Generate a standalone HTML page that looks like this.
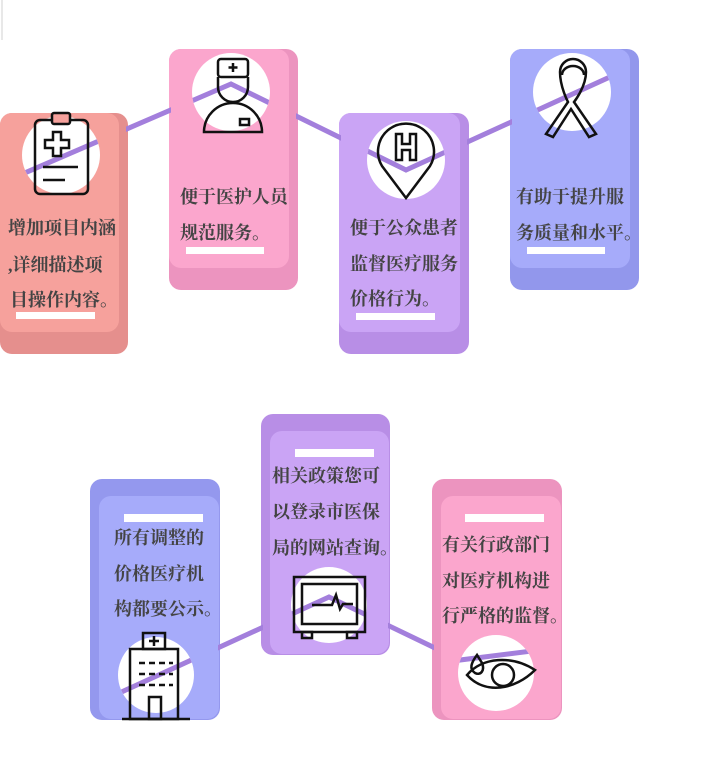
<!DOCTYPE html>
<html><head><meta charset="utf-8"><style>
html,body{margin:0;padding:0;background:#fff;}
svg text{font-family:"Liberation Serif","Noto Serif CJK SC","Noto Sans CJK SC",serif;font-weight:bold;font-size:18px;fill:#444;}
</style></head><body>
<svg width="708" height="766" viewBox="0 0 708 766" xmlns="http://www.w3.org/2000/svg">
<defs>
<clipPath id="cl">
<circle cx="61" cy="155" r="39"/><circle cx="231" cy="92" r="39"/><circle cx="406" cy="160" r="39"/><circle cx="572" cy="92" r="39"/>
<rect x="126" y="60" width="45" height="120"/><rect x="296" y="60" width="45" height="120"/><rect x="467" y="60" width="45" height="120"/>
<circle cx="156" cy="675" r="38"/><circle cx="329" cy="605" r="38"/><circle cx="496" cy="673" r="38"/>
<rect x="218" y="580" width="45" height="100"/><rect x="388" y="580" width="46" height="100"/>
</clipPath>
</defs>
<line x1="2" y1="0" x2="2" y2="40" stroke="#e8e8e8" stroke-width="2"/>
<rect x="0" y="113" width="128" height="241" rx="12" fill="#e58f8d"/>
<rect x="0" y="113" width="119" height="219" rx="12" fill="#f6a19c"/>
<rect x="169" y="49" width="129" height="241" rx="12" fill="#ec94bf"/>
<rect x="169" y="49" width="120" height="219" rx="12" fill="#fba6cd"/>
<rect x="339" y="113" width="130" height="241" rx="12" fill="#b88ee6"/>
<rect x="339" y="113" width="121" height="219" rx="12" fill="#caa4f5"/>
<rect x="510" y="49" width="129" height="241" rx="12" fill="#9297ec"/>
<rect x="510" y="49" width="120" height="219" rx="12" fill="#a6abfa"/>
<rect x="90" y="479" width="130" height="241" rx="12" fill="#9498ee"/>
<rect x="99" y="496" width="120" height="223" rx="12" fill="#a6abfa"/>
<rect x="261" y="414" width="129" height="241" rx="12" fill="#b88ee6"/>
<rect x="270" y="431" width="119" height="223" rx="12" fill="#caa4f5"/>
<rect x="432" y="479" width="130" height="241" rx="12" fill="#ec94bf"/>
<rect x="441" y="496" width="120" height="223" rx="12" fill="#fba6cd"/>
<g fill="#fff">
<circle cx="61" cy="155" r="39"/><circle cx="231" cy="92" r="39"/><circle cx="406" cy="160" r="39"/><circle cx="572" cy="92" r="39"/>
<circle cx="156" cy="675" r="38"/><circle cx="329" cy="605" r="38"/><circle cx="496" cy="673" r="38"/>
</g>
<g clip-path="url(#cl)" stroke="#a37fdc" stroke-width="5" fill="none">
<polyline points="20,175 231,84 406,170 612,76"/>
<polyline points="115,695 329,597 460,660 540,650"/>
</g>
<g fill="none" stroke="#111" stroke-width="2.5">
<rect x="35" y="120" width="53" height="74" rx="5"/><rect x="52" y="113" width="18" height="11" rx="2" fill="#f6a19c"/>
<path d="M45 140h8v-8h8v8h8v8h-8v8h-8v-8h-8z"/><line x1="43" y1="167" x2="78" y2="167"/><line x1="43" y1="180" x2="65" y2="180"/>
<rect x="218" y="59" width="30" height="18" rx="3"/><line x1="233" y1="63" x2="233" y2="72"/><line x1="228.5" y1="67.5" x2="237.5" y2="67.5"/>
<path d="M218 77v10a15 15 0 0 0 30 0v-10"/><path d="M204 132a29 29 0 0 1 58 0z"/><rect x="240" y="119" width="9" height="6"/>
<path d="M406 198l-24-32a28 28 0 1 1 48 0z"/><path d="M396 134h6v10h8v-10h6v26h-6v-10h-8v10h-6z"/>
<path d="M560 72a13 13 0 0 1 26 0c0 15-12 30-12 30l22 32l-7 3l-18-28l-18 28l-7-3l22-32c0 0-8-15-8-30"/>
<path d="M562 75a11 9 0 0 1 22 0"/>
<rect x="143" y="633" width="22" height="16"/><line x1="154" y1="636" x2="154" y2="646"/><line x1="149" y1="641" x2="159" y2="641"/>
<rect x="130" y="649" width="48" height="70"/><rect x="149" y="697" width="12" height="22"/><line x1="122" y1="719" x2="190" y2="719"/>
<g stroke-dasharray="6 4"><line x1="139" y1="663" x2="173" y2="663"/><line x1="139" y1="674" x2="173" y2="674"/><line x1="139" y1="685" x2="173" y2="685"/></g>
<rect x="294" y="577" width="71" height="55"/><rect x="302" y="584" width="55" height="40"/>
<rect x="302" y="632" width="10" height="6"/><rect x="347" y="632" width="10" height="6"/>
<path d="M312 605h20l4-10l4 14l3-5h10"/>
<path d="M467 675c15-18 45-20 68-5c-20 20-50 25-68 5z"/><circle cx="503" cy="675" r="11"/><path d="M477 655c-6 8-8 14-2 18c6 3 10-3 7-10z"/>
</g>
<g fill="#fff">
<rect x="16" y="312" width="79" height="7"/><rect x="186" y="247" width="78" height="7"/><rect x="356" y="313" width="79" height="7"/><rect x="527" y="247" width="78" height="7"/>
<rect x="124" y="514" width="79" height="8"/><rect x="295" y="449" width="79" height="8"/><rect x="465" y="514" width="79" height="8"/>
</g>
<text x="8" y="234">增加项目内涵</text><text x="8" y="271">,详细描述项</text><text x="10" y="306">目操作内容。</text>
<text x="180" y="203">便于医护人员</text><text x="180" y="239">规范服务。</text>
<text x="350" y="234">便于公众患者</text><text x="350" y="270">监督医疗服务</text><text x="350" y="305">价格行为。</text>
<text x="516" y="203">有助于提升服</text><text x="516" y="239">务质量和水平。</text>
<text x="114" y="544">所有调整的</text><text x="114" y="580">价格医疗机</text><text x="114" y="615">构都要公示。</text>
<text x="272" y="482">相关政策您可</text><text x="272" y="518">以登录市医保</text><text x="272" y="554">局的网站查询。</text>
<text x="442" y="551">有关行政部门</text><text x="442" y="587">对医疗机构进</text><text x="442" y="622">行严格的监督。</text>
</svg>
</body></html>
